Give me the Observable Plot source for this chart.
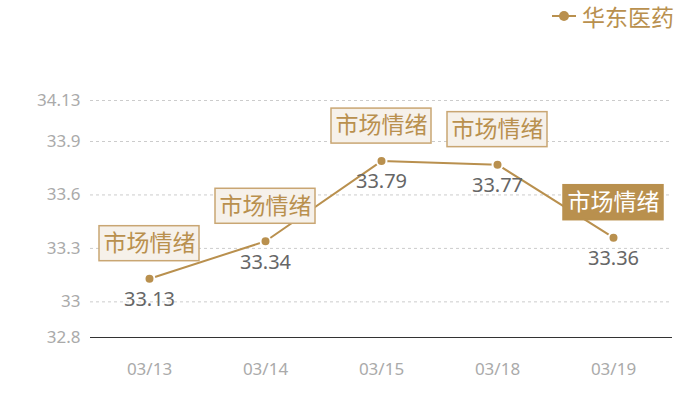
<!DOCTYPE html>
<html><head><meta charset="utf-8">
<script src="https://cdn.jsdelivr.net/npm/d3@7"></script>
<script src="https://cdn.jsdelivr.net/npm/@observablehq/plot@0.6"></script>
<style>
body{margin:0;background:#fff;font-family:"Noto Sans CJK SC","Noto Sans",sans-serif;}
#wrap{position:relative;width:700px;height:400px;}
#legend{position:absolute;top:2px;right:26px;display:flex;align-items:center;color:#b9904e;font-size:23px;line-height:28px;font-family:"Noto Sans CJK SC",sans-serif;}
</style></head><body><div id="wrap"><div id="legend"><svg width="26" height="12"><line x1="1" y1="6" x2="25" y2="6" stroke="#b9904e" stroke-width="2"/><circle cx="13" cy="6" r="5" fill="#b9904e"/></svg><span style="margin-left:5px">华东医药</span></div></div>
<script>
const dates = ["03/13","03/14","03/15","03/18","03/19"];
const values = [33.13, 33.34, 33.79, 33.77, 33.36];
const yTicks = [32.8, 33, 33.3, 33.6, 33.9, 34.13];
const annotationText = "市场情绪";
const highlighted = ["03/19"];

const gold = "#b9904e";
const numFont = '"Noto Sans",sans-serif';
const data = dates.map((d, i) => ({date: d, value: values[i], hi: highlighted.includes(d)}));

const plot = Plot.plot({
  width: 700, height: 400,
  marginLeft: 90, marginRight: 28, marginTop: 100, marginBottom: 63,
  style: {fontFamily: '"Noto Sans CJK SC","Noto Sans",sans-serif', background: "#fff"},
  x: {type: "point", domain: dates, padding: 0.5, label: null},
  y: {domain: [32.8, 34.13], label: null},
  marks: [
    Plot.gridY(yTicks.slice(1), {stroke: "#cccccc", strokeOpacity: 1, strokeDasharray: "3,3"}),
    Plot.axisY(yTicks, {tickSize: 0, tickPadding: 10, fontSize: 17, fontFamily: numFont, color: "#aaaaaa", label: null, tickFormat: d => String(d)}),
    Plot.axisX({tickSize: 0, tickPadding: 25, fontSize: 17, fontFamily: numFont, color: "#aaaaaa", label: null}),
    Plot.ruleY([32.8], {stroke: "#333", strokeWidth: 1}),
    Plot.line(data, {x: "date", y: "value", stroke: gold, strokeWidth: 2}),
    Plot.dot(data, {x: "date", y: "value", r: 5, fill: gold, stroke: "#fff", strokeWidth: 2}),
    Plot.text(data, {x: "date", y: "value", text: d => d.value.toFixed(2), dy: 21, fontSize: 20, fontFamily: numFont, fill: "#666666"}),
    Plot.dot(data, {x: "date", y: "value", render(index, scales, vals) {
      const g = d3.create("svg:g");
      for (const i of index) {
        const hi = data[i].hi;
        g.append("rect")
          .attr("x", vals.x[i] - 50).attr("y", vals.y[i] - 35 - 17.5)
          .attr("width", 100).attr("height", 35)
          .attr("fill", hi ? gold : "#f6f1ea")
          .attr("stroke", hi ? gold : "#c9a673").attr("stroke-width", 1.5);
      }
      return g.node();
    }}),
    Plot.text(data, {x: "date", y: "value", text: () => annotationText, dy: -35, fontSize: 23, fill: d => d.hi ? "#ffffff" : gold})
  ]
});
document.getElementById("wrap").appendChild(plot);
</script></body></html>
